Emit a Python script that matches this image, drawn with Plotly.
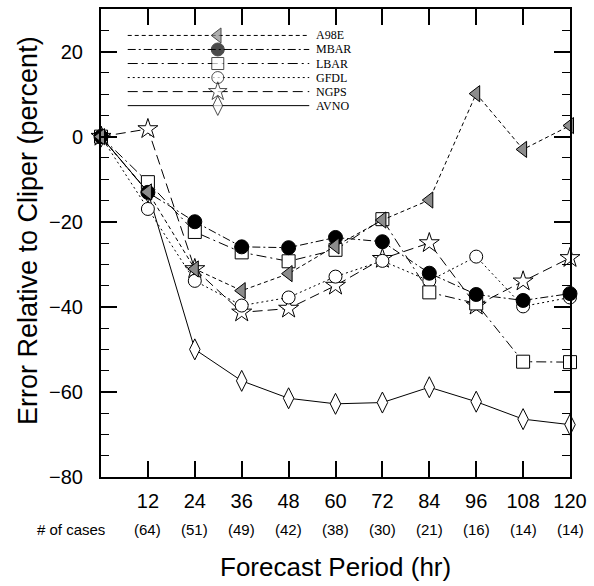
import plotly.graph_objects as go

hours = [0, 12, 24, 36, 48, 60, 72, 84, 96, 108, 120]
tick_hours = [12, 24, 36, 48, 60, 72, 84, 96, 108, 120]
tick_labels = ["12", "24", "36", "48", "60", "72", "84", "96", "108", "120"]
n_cases = ["(64)", "(51)", "(49)", "(42)", "(38)", "(30)", "(21)", "(16)", "(14)", "(14)"]

a98e = [0, -13.0, -31.1, -36.2, -32.2, -25.7, -19.6, -14.9, 10.1, -3.0, 2.6]
mbar = [0, -13.1, -20.0, -25.9, -26.1, -23.7, -24.7, -32.1, -37.1, -38.5, -36.9]
lbar = [0, -10.7, -22.4, -27.2, -29.3, -26.6, -19.4, -36.6, -39.2, -52.9, -53.0]
gfdl = [0, -17.0, -33.9, -39.7, -37.8, -32.9, -29.2, -33.9, -28.2, -39.9, -37.8]
ngps = [0, 1.8, -31.1, -41.3, -40.4, -35.0, -28.7, -25.0, -39.7, -34.0, -28.5]
avno = [0, -13.0, -50.0, -57.4, -61.5, -62.8, -62.5, -58.9, -62.3, -66.4, -67.7]

model_names = ["A98E", "MBAR", "LBAR", "GFDL", "NGPS", "AVNO"]
model_values = [a98e, mbar, lbar, gfdl, ngps, avno]

styles = {
    "A98E": dict(dash="4px,3px", symbol="triangle-left", size=14, fill="#8c8c8c"),
    "MBAR": dict(dash="8px,3px,2px,3px", symbol="circle", size=14, fill="black"),
    "LBAR": dict(dash="10px,4px,2px,4px", symbol="square", size=13, fill="white"),
    "GFDL": dict(dash="2px,3px", symbol="circle", size=13, fill="white"),
    "NGPS": dict(dash="10px,5px", symbol="star", size=15, fill="white"),
    "AVNO": dict(dash="solid", symbol="diamond-tall", size=15, fill="white"),
}

fig = go.Figure()

# data traces, drawn in reverse legend order so MBAR/A98E sit on top
for name, vals in reversed(list(zip(model_names, model_values))):
    s = styles[name]
    fig.add_trace(go.Scatter(
        x=hours, y=vals, mode="lines+markers", name=name, showlegend=False,
        cliponaxis=False,
        line=dict(color="black", width=1, dash=s["dash"]),
        marker=dict(symbol=s["symbol"], size=s["size"], color=s["fill"],
                    line=dict(color="black", width=1)),
        xaxis="x", yaxis="y",
    ))

# hand-made legend (long sample lines, marker in the middle, label at right)
leg_x0, leg_xm, leg_x1, leg_tx = 0.057, 0.249, 0.444, 0.455
leg_y0, leg_dy = 0.9435, 0.0300
annotations = []
for i, name in enumerate(model_names):
    s = styles[name]
    yy = leg_y0 - i * leg_dy
    fig.add_trace(go.Scatter(
        x=[leg_x0, leg_xm, leg_x1], y=[yy, yy, yy], mode="lines+markers",
        showlegend=False, hoverinfo="skip",
        line=dict(color="black", width=1, dash=s["dash"]),
        marker=dict(symbol=s["symbol"], size=[0, s["size"] - 1, 0], color=s["fill"],
                    line=dict(color="black", width=[0, 1, 0])),
        xaxis="x2", yaxis="y2",
    ))
    annotations.append(dict(
        x=leg_tx, y=yy, xref="paper", yref="paper", text=name, showarrow=False,
        xanchor="left", yanchor="middle",
        font=dict(family="Liberation Serif", size=12, color="black"),
    ))

# "# of cases" row
for h, c in zip(tick_hours, n_cases):
    annotations.append(dict(
        x=h, y=0, xref="x", yref="paper", yshift=-52, text=c, showarrow=False,
        xanchor="center", yanchor="middle",
        font=dict(family="Liberation Sans", size=15, color="black"),
    ))
annotations.append(dict(
    x=0, y=0, xref="paper", yref="paper", xshift=6, yshift=-52, text="# of cases",
    showarrow=False, xanchor="right", yanchor="middle",
    font=dict(family="Liberation Sans", size=15, color="black"),
))
# axis titles
annotations.append(dict(
    x=0.5, y=0, xref="paper", yref="paper", yshift=-90, text="Forecast Period (hr)",
    showarrow=False, xanchor="center", yanchor="middle",
    font=dict(family="Liberation Sans", size=26, color="black"),
))
annotations.append(dict(
    x=0, y=0.5, xref="paper", yref="paper", xshift=-73, yshift=12,
    text="Error Relative to Cliper (percent)", textangle=-90,
    showarrow=False, xanchor="center", yanchor="middle",
    font=dict(family="Liberation Sans", size=27, color="black"),
))

fig.update_layout(
    width=594, height=586,
    margin=dict(l=101, r=22, t=7, b=109),
    paper_bgcolor="white", plot_bgcolor="white",
    showlegend=False,
    annotations=annotations,
    xaxis=dict(
        range=[0, 120], tickvals=tick_hours, ticktext=tick_labels,
        showline=True, linecolor="black", linewidth=2, mirror="ticks",
        ticks="inside", ticklen=16, tickwidth=1.5, tickcolor="black",
        showgrid=False, zeroline=False, ticklabelstandoff=5,
        tickfont=dict(family="Liberation Sans", size=20, color="black"),
    ),
    yaxis=dict(
        range=[-80, 30], tickvals=[-80, -60, -40, -20, 0, 20],
        showline=True, linecolor="black", linewidth=2, mirror="ticks",
        ticks="inside", ticklen=16, tickwidth=1.5, tickcolor="black",
        minor=dict(dtick=5, tick0=0, ticks="inside", ticklen=8, tickwidth=1, tickcolor="black", showgrid=False),
        showgrid=False, zeroline=False, ticklabelstandoff=12,
        tickfont=dict(family="Liberation Sans", size=20, color="black"),
    ),
    xaxis2=dict(range=[0, 1], overlaying="x", anchor="y2", visible=False, fixedrange=True),
    yaxis2=dict(range=[0, 1], overlaying="y", anchor="x2", visible=False, fixedrange=True),
)

fig.write_html(
    "out.html",
    config={"displayModeBar": False},
    post_script="document.body.style.margin='0px';document.body.style.overflow='hidden';",
)
